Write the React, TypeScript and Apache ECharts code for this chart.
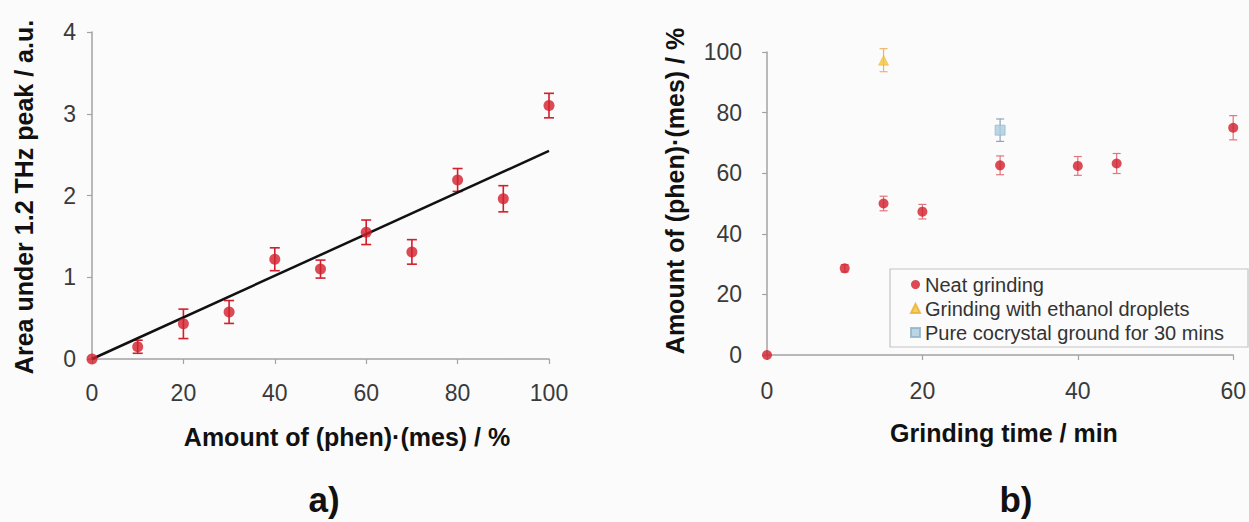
import React, { useEffect, useRef } from "react";
import * as echarts from "echarts";

// ---------- Panel a data ----------
const compositionPct = [0, 10, 20, 30, 40, 50, 60, 70, 80, 90, 100];
const peakArea = [0, 0.15, 0.43, 0.575, 1.22, 1.1, 1.55, 1.31, 2.19, 1.96, 3.1];
const peakAreaErr = [0, 0.08, 0.18, 0.14, 0.14, 0.11, 0.15, 0.15, 0.14, 0.16, 0.15];
const fitX = [0, 100];
const fitY = [0, 2.546];
const aXTicks = { min: 0, max: 100, interval: 20 };
const aYTicks = { min: 0, max: 4, interval: 1 };

// ---------- Panel b data ----------
const neatTime = [0, 10, 15, 20, 30, 40, 45, 60];
const neatAmount = [0, 28.6, 50.0, 47.3, 62.6, 62.4, 63.2, 75.0];
const neatErr = [0, 1.2, 2.4, 2.4, 3.1, 3.1, 3.3, 4.0];
const ethanolTime = [15];
const ethanolAmount = [97.3];
const ethanolErr = [3.8];
const pureTime = [30];
const pureAmount = [74.2];
const pureErr = [3.7];
const bXTicks = { min: 0, max: 60, interval: 20 };
const bYTicks = { min: 0, max: 100, interval: 20 };

const seriesNames = [
  "Neat grinding",
  "Grinding with ethanol droplets",
  "Pure cocrystal ground for 30 mins",
];

const FONT = "Liberation Sans, Arial, sans-serif";
const RED = "#d31f2c";

function pairs(xs: number[], ys: number[]) {
  return xs.map((x, i) => [x, ys[i]]);
}
function errRows(xs: number[], ys: number[], es: number[]) {
  return xs
    .map((x, i) => [x, ys[i] - es[i], ys[i] + es[i]])
    .filter((_, i) => es[i] > 0);
}

function errorBar(cap: number, color: string, width: number) {
  return (params: any, api: any) => {
    const x = api.value(0);
    const top = api.coord([x, api.value(2)]);
    const bot = api.coord([x, api.value(1)]);
    const style = { stroke: color, lineWidth: width };
    return {
      type: "group",
      children: [
        { type: "line", shape: { x1: top[0], y1: top[1], x2: bot[0], y2: bot[1] }, style },
        { type: "line", shape: { x1: top[0] - cap, y1: top[1], x2: top[0] + cap, y2: top[1] }, style },
        { type: "line", shape: { x1: bot[0] - cap, y1: bot[1], x2: bot[0] + cap, y2: bot[1] }, style },
      ],
    };
  };
}

function valueAxis(gridIndex: number, t: any, margin: number) {
  return {
    type: "value",
    gridIndex,
    min: t.min,
    max: t.max,
    interval: t.interval,
    axisLine: { show: true, lineStyle: { color: "#a3a3a3", width: 1.5 } },
    axisTick: { show: true, length: 5, lineStyle: { color: "#a3a3a3", width: 1.2 } },
    axisLabel: { fontSize: 23, color: "#3a3a3a", fontFamily: FONT, margin },
    splitLine: { show: false },
  };
}

function label(text: string, x: number, y: number, size: number, rotate = false) {
  return {
    type: "text",
    x,
    y,
    rotation: rotate ? Math.PI / 2 : 0,
    style: {
      text,
      font: `bold ${size}px ${FONT}`,
      fill: "#111",
      textAlign: "center",
      textVerticalAlign: "middle",
    },
  };
}

export default function App() {
  const ref = useRef<HTMLDivElement>(null);
  useEffect(() => {
    if (!ref.current) return;
    const chart = echarts.init(ref.current, null, { renderer: "svg" });
    const option: any = {
      animation: false,
      backgroundColor: "#fbfbfb",
      textStyle: { fontFamily: FONT },
      grid: [
        { left: 92, top: 32, width: 457, height: 327 },
        { left: 767, top: 52, width: 470.5, height: 303 },
      ],
      xAxis: [valueAxis(0, aXTicks, 22), valueAxis(1, bXTicks, 24)],
      yAxis: [valueAxis(0, aYTicks, 16), valueAxis(1, bYTicks, 25)],
      legend: {
        data: [
          { name: seriesNames[0], icon: "circle", itemStyle: { color: RED } },
          { name: seriesNames[1], icon: "triangle", itemStyle: { color: "#f3c63c" } },
          { name: seriesNames[2], icon: "rect", itemStyle: { color: "#aacde0" } },
        ],
        orient: "vertical",
        left: 890,
        top: 269,
        itemWidth: 9,
        itemHeight: 9,
        itemGap: 1,
        padding: [4, 24, 3, 20],
        borderColor: "#c4c4c4",
        borderWidth: 1.2,
        textStyle: { fontSize: 20, lineHeight: 23, color: "#333", fontFamily: FONT },
      },
      series: [
        // Panel a
        {
          type: "custom",
          name: "errA",
          xAxisIndex: 0,
          yAxisIndex: 0,
          renderItem: errorBar(5, RED, 1.6),
          encode: { x: 0, y: [1, 2] },
          data: errRows(compositionPct, peakArea, peakAreaErr),
          z: 2,
          silent: true,
        },
        {
          type: "line",
          name: "fit",
          xAxisIndex: 0,
          yAxisIndex: 0,
          data: pairs(fitX, fitY),
          showSymbol: false,
          lineStyle: { color: "#111", width: 2.5 },
          z: 3,
          silent: true,
        },
        {
          type: "scatter",
          name: "areaPoints",
          xAxisIndex: 0,
          yAxisIndex: 0,
          data: pairs(compositionPct, peakArea),
          symbol: "circle",
          symbolSize: 11,
          itemStyle: { color: RED },
          clip: false,
          z: 4,
        },
        // Panel b
        {
          type: "custom",
          name: "errNeat",
          xAxisIndex: 1,
          yAxisIndex: 1,
          renderItem: errorBar(4, "#e0757d", 1.2),
          encode: { x: 0, y: [1, 2] },
          data: errRows(neatTime, neatAmount, neatErr),
          z: 2,
          silent: true,
        },
        {
          type: "custom",
          name: "errEthanol",
          xAxisIndex: 1,
          yAxisIndex: 1,
          renderItem: errorBar(4, "#eeb56a", 1.2),
          encode: { x: 0, y: [1, 2] },
          data: errRows(ethanolTime, ethanolAmount, ethanolErr),
          z: 2,
          silent: true,
        },
        {
          type: "custom",
          name: "errPure",
          xAxisIndex: 1,
          yAxisIndex: 1,
          renderItem: errorBar(4, "#8ea4bb", 1.2),
          encode: { x: 0, y: [1, 2] },
          data: errRows(pureTime, pureAmount, pureErr),
          z: 2,
          silent: true,
        },
        {
          type: "scatter",
          name: seriesNames[0],
          xAxisIndex: 1,
          yAxisIndex: 1,
          data: pairs(neatTime, neatAmount),
          symbol: "circle",
          symbolSize: 10,
          itemStyle: { color: RED },
          clip: false,
          z: 4,
        },
        {
          type: "scatter",
          name: seriesNames[1],
          xAxisIndex: 1,
          yAxisIndex: 1,
          data: pairs(ethanolTime, ethanolAmount),
          symbol: "triangle",
          symbolSize: 10,
          itemStyle: { color: "#f3c63c", borderColor: "#e8b030", borderWidth: 0.6 },
          clip: false,
          z: 4,
        },
        {
          type: "scatter",
          name: seriesNames[2],
          xAxisIndex: 1,
          yAxisIndex: 1,
          data: pairs(pureTime, pureAmount),
          symbol: "rect",
          symbolSize: 10,
          itemStyle: { color: "#aacde0", borderColor: "#8fb0c8", borderWidth: 0.8 },
          clip: false,
          z: 4,
        },
      ],
      graphic: [
        label("Amount of (phen)·(mes) / %", 347, 437, 25),
        label("Area under 1.2 THz peak / a.u.", 24, 197, 25, true),
        label("a)", 324, 499, 35),
        label("Grinding time / min", 1004, 433, 25),
        label("Amount of (phen)·(mes) / %", 675, 191, 25, true),
        label("b)", 1016, 499, 35),
      ],
    };
    chart.setOption(option);
    return () => chart.dispose();
  }, []);
  return (
    <div
      ref={ref}
      style={{ position: "absolute", left: 0, top: 0, width: 1249, height: 522 }}
    />
  );
}
